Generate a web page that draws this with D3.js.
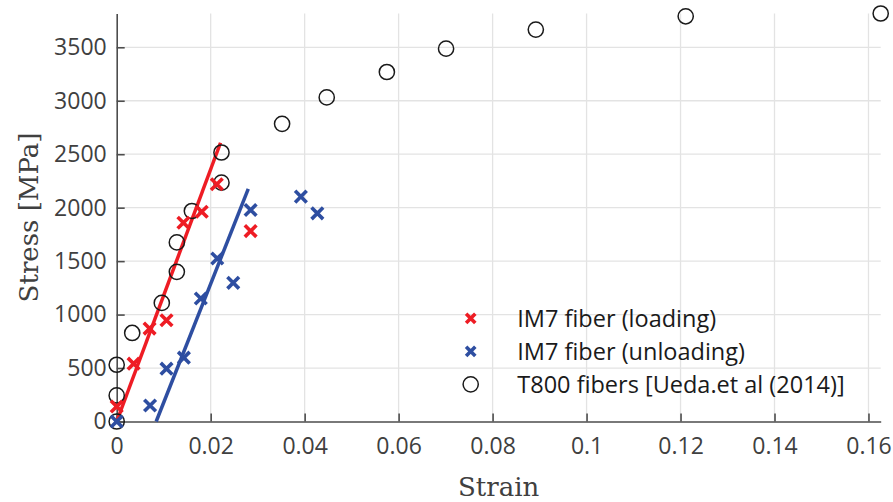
<!DOCTYPE html>
<html>
<head>
    <title>Stress-strain of carbon fibers</title>
    <script src="https://d3js.org/d3.v7.min.js"></script>
    <style>
        body {
            margin: 0;
            background-color: #fff;
        }
        .tick-label {
            font-family: "Open Sans", sans-serif;
            font-size: 23px;
            fill: #404040;
        }
        .axis-title {
            font-family: "DejaVu Serif", serif;
            font-size: 26px;
            fill: #404040;
        }
        .legend-text {
            font-family: "Open Sans", sans-serif;
            font-size: 23.5px;
            fill: #1a1a1a;
        }
    </style>
</head>
<body>
    <div id="chart"></div>
    <script>
        // IM7 fiber, loading
        const loadStrain = [0, 0.0036, 0.0070, 0.0106, 0.0142, 0.0181, 0.0213, 0.0285];
        const loadStress = [140, 541, 869, 947, 1859, 1962, 2219, 1781];

        // IM7 fiber, unloading
        const unloadStrain = [0, 0.0071, 0.0106, 0.0143, 0.0179, 0.0214, 0.0248, 0.0285, 0.0392, 0.0427];
        const unloadStress = [0, 150, 494, 597, 1150, 1525, 1297, 1978, 2103, 1947];

        // T800 fibers [Ueda et al (2014)]
        const t800Strain = [0, 0, 0, 0.0033, 0.0096, 0.0128, 0.0128, 0.0160, 0.0223, 0.0223,
                            0.0352, 0.0447, 0.0575, 0.0701, 0.0892, 0.1211, 0.1626];
        const t800Stress = [0, 244, 531, 828, 1109, 1400, 1675, 1969, 2234, 2516,
                            2784, 3031, 3269, 3487, 3666, 3790, 3816];

        // linear fits drawn as lines
        const loadFitStrain = [0, 0.0221];
        const loadFitStress = [0, 2607];
        const unloadFitStrain = [0.0084, 0.0280];
        const unloadFitStress = [0, 2175];

        const xTicks = [0, 0.02, 0.04, 0.06, 0.08, 0.1, 0.12, 0.14, 0.16];
        const yTicks = [0, 500, 1000, 1500, 2000, 2500, 3000, 3500];

        const legendLabels = ['IM7 fiber (loading)', 'IM7 fiber (unloading)', 'T800 fibers [Ueda.et al (2014)]'];

        const red = '#ee1c24';
        const blue = '#2e4ea1';

        const width = 893;
        const height = 502;
        const margin = { top: 13.5, right: 12.3, bottom: 80.5, left: 116.7 };

        const svg = d3.select('#chart')
            .append('svg')
            .attr('width', width)
            .attr('height', height);

        // axis tight: limits from the data
        const x = d3.scaleLinear()
            .domain([0, d3.max(t800Strain)])
            .range([margin.left, width - margin.right]);
        const y = d3.scaleLinear()
            .domain([0, d3.max(t800Stress)])
            .range([height - margin.bottom, margin.top]);

        // grid
        svg.append('g')
            .selectAll('line')
            .data(xTicks.filter(d => d > 0))
            .join('line')
            .attr('x1', d => x(d)).attr('x2', d => x(d))
            .attr('y1', y.range()[0]).attr('y2', y.range()[1])
            .attr('stroke', '#e3e3e3').attr('stroke-width', 1.3);
        svg.append('g')
            .selectAll('line')
            .data(yTicks.filter(d => d > 0))
            .join('line')
            .attr('x1', x.range()[0]).attr('x2', x.range()[1])
            .attr('y1', d => y(d)).attr('y2', d => y(d))
            .attr('stroke', '#e3e3e3').attr('stroke-width', 1.3);

        // axes (ticks point inward, like matlab)
        const xAxis = svg.append('g')
            .attr('transform', `translate(0,${y(0)})`)
            .call(d3.axisBottom(x).tickValues(xTicks).tickSize(-8).tickSizeOuter(0).tickFormat(d3.format('~g')));
        const yAxis = svg.append('g')
            .attr('transform', `translate(${x(0)},0)`)
            .call(d3.axisLeft(y).tickValues(yTicks).tickSize(-8).tickSizeOuter(0).tickFormat(d3.format('d')));

        [xAxis, yAxis].forEach(g => {
            g.select('.domain').attr('stroke', '#4d4d4d').attr('stroke-width', 1.6);
            g.selectAll('.tick line').attr('stroke', '#4d4d4d').attr('stroke-width', 1.6);
            g.selectAll('.tick text').attr('class', 'tick-label').attr('fill', null);
        });
        xAxis.selectAll('.tick text').attr('y', 16);
        yAxis.selectAll('.tick text').attr('x', -10);

        // axis titles
        svg.append('text')
            .attr('class', 'axis-title')
            .attr('x', (x.range()[0] + x.range()[1]) / 2)
            .attr('y', 496)
            .attr('text-anchor', 'middle')
            .text('Strain');
        svg.append('text')
            .attr('class', 'axis-title')
            .attr('transform', `translate(38,${(y.range()[0] + y.range()[1]) / 2}) rotate(-90)`)
            .attr('text-anchor', 'middle')
            .text('Stress [MPa]');

        // fit lines
        const line = d3.line().x(d => x(d[0])).y(d => y(d[1]));
        svg.append('path')
            .datum(d3.zip(loadFitStrain, loadFitStress))
            .attr('d', line).attr('fill', 'none')
            .attr('stroke', red).attr('stroke-width', 3.5);
        svg.append('path')
            .datum(d3.zip(unloadFitStrain, unloadFitStress))
            .attr('d', line).attr('fill', 'none')
            .attr('stroke', blue).attr('stroke-width', 3.5);

        const cross = (g, color, s) => {
            g.append('path')
                .attr('d', `M${-s},${-s}L${s},${s}M${-s},${s}L${s},${-s}`)
                .attr('stroke', color).attr('stroke-width', 3.6).attr('fill', 'none');
        };

        // T800 circles
        svg.append('g')
            .selectAll('circle')
            .data(d3.zip(t800Strain, t800Stress))
            .join('circle')
            .attr('cx', d => x(d[0])).attr('cy', d => y(d[1]))
            .attr('r', 7.6)
            .attr('fill', 'none').attr('stroke', '#1a1a1a').attr('stroke-width', 1.5);

        // IM7 crosses
        svg.append('g')
            .selectAll('g')
            .data(d3.zip(loadStrain, loadStress))
            .join('g')
            .attr('transform', d => `translate(${x(d[0])},${y(d[1])})`)
            .each(function () { cross(d3.select(this), red, 5.8); });
        svg.append('g')
            .selectAll('g')
            .data(d3.zip(unloadStrain, unloadStress))
            .join('g')
            .attr('transform', d => `translate(${x(d[0])},${y(d[1])})`)
            .each(function () { cross(d3.select(this), blue, 5.8); });

        // legend
        const legend = svg.append('g').attr('transform', 'translate(470.7,318.3)');
        legendLabels.forEach((label, i) => {
            const row = legend.append('g').attr('transform', `translate(0,${i * 33})`);
            if (i === 0) cross(row, red, 4.6);
            else if (i === 1) cross(row, blue, 4.6);
            else row.append('circle').attr('r', 7.6).attr('fill', 'none')
                .attr('stroke', '#1a1a1a').attr('stroke-width', 1.5);
            row.append('text')
                .attr('class', 'legend-text')
                .attr('x', 46.6)
                .attr('dy', '0.35em')
                .text(label);
        });
    </script>
</body>
</html>
